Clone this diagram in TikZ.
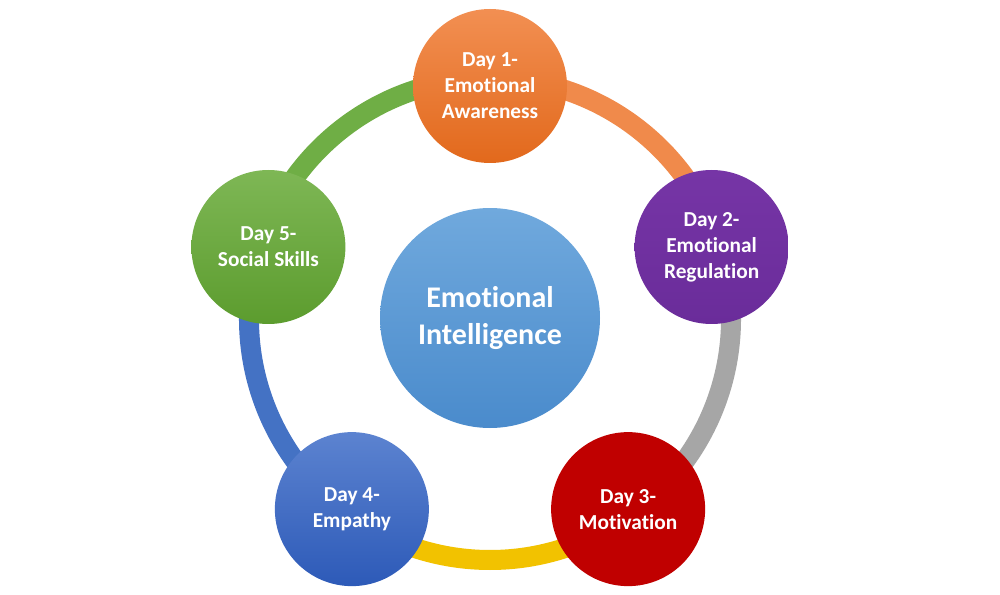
\documentclass[tikz,border=0pt]{standalone}
\usepackage{fontspec}
\setmainfont{Carlito}[Ligatures={NoCommon}]
\usetikzlibrary{backgrounds}
\definecolor{ringorange}{HTML}{F08A4B}
\definecolor{ringgray}{HTML}{A6A6A6}
\definecolor{ringyellow}{HTML}{F2C200}
\definecolor{ringblue}{HTML}{4472C4}
\definecolor{ringgreen}{HTML}{6FAE45}
\begin{document}
\begin{tikzpicture}[x=0.75pt,y=0.75pt,
  ring/.style={line width=15pt},
  daynode/.style={circle, inner sep=0pt, minimum size=115.5pt, text=white, align=center,
    font=\fontsize{16}{19.5}\selectfont\bfseries},
  hubnode/.style={circle, inner sep=0pt, minimum size=165pt, text=white, align=center,
    font=\fontsize{22.5}{28}\selectfont\bfseries,
    top color={rgb,255:red,112;green,169;blue,221}, bottom color={rgb,255:red,74;green,139;blue,204}}]
\useasboundingbox (0,0) rectangle (1000,594);
\coordinate (O) at (490,275);
\node[hubnode] (hub) at (490,276) {Emotional\\Intelligence};
\node[daynode, top color={rgb,255:red,242;green,143;blue,82}, bottom color={rgb,255:red,226;green,105;blue,28}] (d1) at ([shift={(O)}]90:233) {Day 1-\\Emotional\\Awareness};
\node[daynode, top color={rgb,255:red,118;green,53;blue,166}, bottom color={rgb,255:red,106;green,44;blue,154}] (d2) at ([shift={(O)}]18:233) {Day 2-\\Emotional\\Regulation};
\node[daynode, fill={rgb,255:red,192;green,0;blue,0}] (d3) at ([shift={(O)}]-54:235) {Day 3-\\Motivation};
\node[daynode, top color={rgb,255:red,92;green,131;blue,208}, bottom color={rgb,255:red,45;green,90;blue,184}] (d4) at ([shift={(O)}]-126:235) {Day 4-\\Empathy};
\node[daynode, top color={rgb,255:red,126;green,183;blue,85}, bottom color={rgb,255:red,92;green,156;blue,46}] (d5) at ([shift={(O)}]162:233) {Day 5-\\Social Skills};
\begin{scope}[on background layer]
\fill[white] (0,0) rectangle (1000,594);
\draw[ring, ringorange] ([shift={(O)}]90:241) arc[start angle=90, end angle=18, radius=180.75pt];
\draw[ring, ringgray] ([shift={(O)}]18:241) arc[start angle=18, end angle=-54, radius=180.75pt];
\draw[ring, ringyellow] ([shift={(O)}]-54:241) arc[start angle=-54, end angle=-126, radius=180.75pt];
\draw[ring, ringblue] ([shift={(O)}]-126:241) arc[start angle=-126, end angle=-198, radius=180.75pt];
\draw[ring, ringgreen] ([shift={(O)}]162:241) arc[start angle=162, end angle=90, radius=180.75pt];
\end{scope}
\end{tikzpicture}
\end{document}
